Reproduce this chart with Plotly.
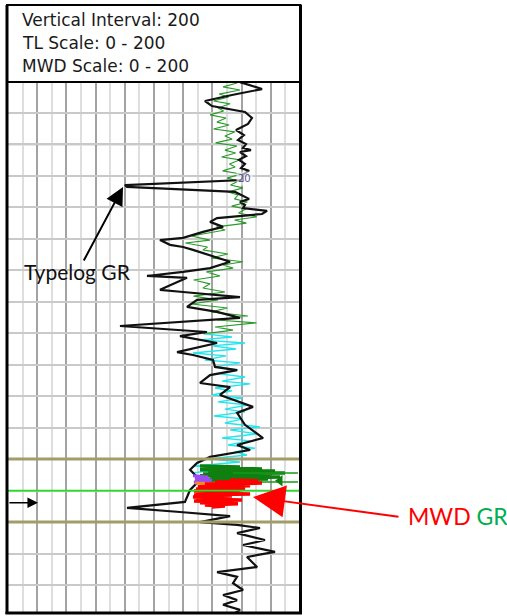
import plotly.graph_objects as go

# ---------------- data ----------------
# Typelog GR (API) vs measured depth (ft)
typelog_depth = [8380.2, 8382.4, 8384.3, 8386.2, 8387.8, 8389.7, 8391.6, 8393.5, 8395.4, 8397.0,
                 8398.6, 8399.9, 8401.1, 8401.8, 8402.4, 8403.7, 8404.9, 8406.2, 8407.5, 8408.4,
                 8409.7, 8411.3, 8412.9, 8413.5, 8415.1, 8416.4, 8417.3, 8418.3, 8419.2, 8420.2,
                 8421.1, 8422.1, 8423.4, 8424.6, 8426.2, 8427.8, 8429.7, 8430.4, 8431.9, 8432.6,
                 8433.5, 8437.3, 8439.3, 8440.5, 8441.8, 8442.4, 8446.2, 8446.9, 8448.5, 8449.4,
                 8451.6, 8453.2, 8455.1, 8457.7, 8459.6, 8460.9, 8463.1, 8466.0, 8466.9, 8468.5,
                 8470.7, 8471.7, 8473.3, 8475.8, 8477.1, 8479.6, 8483.4, 8485.3, 8489.1, 8493.3,
                 8495.5, 8497.1, 8499.3, 8501.2, 8503.4, 8506.6, 8509.8, 8513.6, 8515.5, 8516.8,
                 8518.1, 8520.0, 8520.9, 8521.9, 8523.5, 8525.7, 8527.3, 8529.5, 8531.1, 8534.3,
                 8535.9, 8537.4, 8539.4, 8541.6, 8543.2, 8544.8, 8546.3, 8547.9, 8548.9]
typelog_gr = [158.9, 174.0, 153.4, 134.9, 139.7, 162.3, 167.1, 164.4, 156.2, 161.6,
              157.5, 163.0, 161.0, 166.4, 158.9, 163.0, 158.2, 162.3, 159.6, 165.1,
              160.3, 161.0, 80.1, 81.5, 155.5, 161.6, 165.1, 158.9, 162.3, 161.0,
              177.4, 174.0, 143.2, 138.4, 147.3, 133.6, 119.9, 104.1, 111.0, 119.9,
              126.7, 152.1, 138.4, 119.9, 95.2, 122.6, 104.1, 119.9, 158.9, 129.5,
              122.6, 143.2, 158.9, 76.7, 136.3, 117.8, 143.2, 115.8, 126.7, 140.4,
              141.8, 156.9, 138.4, 131.5, 152.1, 145.2, 167.8, 156.9, 162.3, 174.7,
              156.9, 165.8, 138.4, 129.5, 124.7, 131.5, 124.7, 121.2, 81.5, 117.8,
              152.1, 131.5, 156.9, 172.6, 156.9, 176.0, 161.0, 182.9, 163.7, 170.6,
              143.2, 156.9, 154.1, 161.0, 147.3, 156.9, 147.3, 158.9, 155.5]

# MWD GR, upper run (green)
mwd_upper_depth = [8380.5, 8381.7, 8382.7, 8384.0, 8384.9, 8386.2, 8387.1, 8388.4, 8389.4, 8390.6,
                   8391.6, 8392.9, 8393.8, 8395.1, 8396.0, 8397.3, 8398.3, 8399.5, 8400.5, 8401.8,
                   8402.7, 8404.0, 8404.9, 8406.2, 8407.2, 8408.4, 8409.4, 8410.7, 8411.6, 8412.9,
                   8413.8, 8415.1, 8416.1, 8417.3, 8418.3, 8419.6, 8420.5, 8421.8, 8423.0, 8424.0,
                   8425.0, 8426.2, 8427.2, 8429.1, 8430.4, 8431.3, 8432.6, 8433.5, 8434.8, 8436.1,
                   8437.3, 8438.3, 8439.3, 8440.5, 8441.8, 8443.1, 8444.3, 8445.6, 8446.9, 8448.2,
                   8449.4, 8450.7, 8452.0, 8453.2, 8454.5, 8455.8, 8456.7, 8458.0, 8459.0, 8460.2]
mwd_upper_gr = [156.9, 147.3, 158.9, 144.6, 151.1, 140.8, 152.1, 143.8, 147.7, 138.4,
                149.3, 143.1, 151.4, 140.8, 155.5, 148.6, 153.5, 142.2, 156.8, 148.6,
                155.9, 146.3, 158.9, 151.7, 155.6, 147.0, 159.5, 150.1, 158.0, 152.4,
                160.9, 150.7, 157.6, 155.1, 164.0, 153.2, 162.8, 157.9, 170.5, 155.2,
                163.3, 142.8, 148.7, 125.7, 138.3, 121.5, 136.7, 133.5, 150.6, 139.1,
                160.9, 147.3, 154.2, 135.9, 145.2, 127.1, 138.4, 133.5, 148.6, 127.1,
                143.8, 125.7, 150.4, 139.0, 164.3, 143.2, 170.2, 141.8, 154.1, 133.9]

# MWD GR, middle run (cyan)
mwd_mid_depth = [8460.2, 8461.2, 8462.1, 8463.1, 8464.0, 8465.0, 8466.3, 8467.2, 8468.5, 8469.4,
                 8470.7, 8471.7, 8472.9, 8473.9, 8475.2, 8476.1, 8477.4, 8478.3, 8479.6, 8480.6,
                 8481.8, 8482.8, 8484.1, 8485.0, 8486.3, 8487.2, 8488.5, 8489.8, 8490.7, 8492.0,
                 8493.3, 8494.2, 8495.5, 8496.5, 8497.7, 8498.7, 8499.9, 8500.9, 8502.2, 8503.1,
                 8504.4]
mwd_mid_gr = [134.9, 153.4, 131.5, 162.3, 139.7, 156.2, 126.7, 149.3, 134.9, 158.9,
              141.8, 157.5, 145.2, 162.3, 146.6, 165.8, 141.8, 153.4, 139.7, 160.3,
              143.8, 164.4, 148.6, 162.3, 141.1, 161.0, 148.6, 172.6, 152.1, 170.6,
              146.6, 165.8, 150.7, 169.2, 155.5, 163.7, 138.4, 158.9, 128.1, 148.6,
              126.0]

# MWD GR, lateral runs near the landing zone
run_green_depth = [8502.2, 8502.5, 8502.8, 8503.1, 8503.4, 8503.8, 8504.1, 8504.4, 8504.7, 8505.0,
                   8505.3, 8505.7, 8506.0, 8506.3, 8506.6, 8506.9, 8507.3, 8507.6, 8507.9, 8508.2,
                   8508.8, 8509.5, 8510.1]
run_green_gr = [131.5, 158.9, 134.9, 174.0, 131.5, 182.9, 137.0, 189.7, 133.6, 179.5,
                131.5, 186.3, 138.4, 178.1, 134.9, 169.2, 141.8, 164.4, 138.4, 158.9,
                145.2, 162.3, 148.6]

run_purple_depth = [8505.3, 8505.7, 8506.3, 8506.6, 8507.3, 8507.6]
run_purple_gr = [126.7, 137.0, 128.1, 139.7, 127.4, 134.2]

run_orange_depth = [8507.6, 8507.9, 8508.2, 8508.5, 8508.8, 8509.2]
run_orange_gr = [128.1, 145.2, 131.5, 162.3, 134.9, 152.1]

run_red_depth = [8506.6, 8506.9, 8507.3, 8507.6, 8507.9, 8508.5, 8508.8, 8509.2, 8509.5, 8509.8,
                 8510.1, 8510.4, 8510.8, 8511.1, 8511.4, 8511.7, 8512.0, 8512.3, 8512.7, 8513.0,
                 8513.3, 8513.6, 8513.9, 8514.2, 8514.6, 8514.9, 8515.2]
run_red_gr = [152.1, 171.2, 141.8, 174.0, 134.9, 165.8, 130.1, 162.3, 128.8, 158.9,
              127.4, 153.4, 128.8, 165.8, 127.4, 153.4, 126.7, 150.7, 128.8, 160.3,
              127.4, 153.4, 131.5, 157.5, 134.9, 148.6, 139.7]

# projection lines of the green run toward the track edge
proj_depth = [8504.4, 8507.3]
proj_gr_start = [154.1, 170.6]
proj_gr_end = [198.6, 198.6]

formation_tops = [8500, 8520]
target_line = 8510
bit_depth = 8513.9
marker_depth = 8410.9
marker_gr = 162.3

header_lines = ["Vertical Interval: 200", "TL Scale: 0 - 200", "MWD Scale: 0 - 200"]

# ---------------- layout geometry ----------------
W, H = 507, 616
TRACK_L, TRACK_R = 8, 300       # px
TRACK_T, TRACK_B = 81.5, 613     # px
DEPTH_TOP, DEPTH_BOT = 8380, 8548.9
GR_MIN, GR_MAX = 0, 200


def px(x):
    return x / W


def py(y):
    return 1 - y / H


fig = go.Figure()

fig.add_trace(go.Scatter(x=mwd_upper_gr, y=mwd_upper_depth, mode="lines",
                         line=dict(color="#2a9a2a", width=1.1), hoverinfo="skip"))
fig.add_trace(go.Scatter(x=mwd_mid_gr, y=mwd_mid_depth, mode="lines",
                         line=dict(color="#22e6ee", width=1.4), hoverinfo="skip"))
fig.add_trace(go.Scatter(x=typelog_gr, y=typelog_depth, mode="lines",
                         line=dict(color="#111111", width=2.2), hoverinfo="skip"))
fig.add_trace(go.Scatter(x=run_green_gr, y=run_green_depth, mode="lines",
                         line=dict(color="#0f7f0f", width=3.5), hoverinfo="skip"))
for d, g0, g1 in zip(proj_depth, proj_gr_start, proj_gr_end):
    fig.add_trace(go.Scatter(x=[g0, g1], y=[d, d], mode="lines",
                             line=dict(color="#169a16", width=1.5), hoverinfo="skip"))
fig.add_trace(go.Scatter(x=[186.3], y=[8506.9], mode="markers",
                         marker=dict(symbol="triangle-left", size=10, color="#0f7f0f"),
                         hoverinfo="skip"))
fig.add_trace(go.Scatter(x=run_purple_gr, y=run_purple_depth, mode="lines",
                         line=dict(color="#9b4cf2", width=3), hoverinfo="skip"))
fig.add_trace(go.Scatter(x=run_orange_gr, y=run_orange_depth, mode="lines",
                         line=dict(color="#f08a24", width=3), hoverinfo="skip"))
fig.add_trace(go.Scatter(x=run_red_gr, y=run_red_depth, mode="lines",
                         line=dict(color="#ff0000", width=3.5), hoverinfo="skip"))

shapes = []
# darker 100 ft depth line
shapes.append(dict(type="line", xref="x", yref="y", x0=GR_MIN, x1=GR_MAX, y0=8400, y1=8400,
                   line=dict(color="#9a9a9a", width=1.5), layer="below"))
# formation tops
for d in formation_tops:
    shapes.append(dict(type="line", xref="x", yref="y", x0=GR_MIN, x1=GR_MAX, y0=d, y1=d,
                       line=dict(color="#a29d68", width=3), layer="above"))
# target line
shapes.append(dict(type="line", xref="x", yref="y", x0=GR_MIN, x1=GR_MAX,
                   y0=target_line, y1=target_line,
                   line=dict(color="#22e022", width=1.6), layer="above"))
# header box
shapes.append(dict(type="rect", xref="paper", yref="paper",
                   x0=px(7), x1=px(300.5), y0=py(82), y1=py(5),
                   line=dict(color="black", width=2)))
# track frame
shapes.append(dict(type="line", xref="paper", yref="paper", x0=px(7), x1=px(7),
                   y0=py(5), y1=py(614), line=dict(color="black", width=3)))
shapes.append(dict(type="line", xref="paper", yref="paper", x0=px(300.5), x1=px(300.5),
                   y0=py(5), y1=py(614), line=dict(color="black", width=3)))
shapes.append(dict(type="line", xref="paper", yref="paper", x0=px(5.5), x1=px(302),
                   y0=py(613), y1=py(613), line=dict(color="black", width=3)))

annotations = []
for i, t in enumerate(header_lines):
    annotations.append(dict(text=t, xref="paper", yref="paper", x=px(20), y=py(20 + 23 * i),
                            xanchor="left", yanchor="middle", showarrow=False,
                            font=dict(family="DejaVu Sans", size=17, color="#1a1a1a")))
annotations.append(dict(text="Typelog GR", xref="paper", yref="paper", x=px(22), y=py(272),
                        xanchor="left", yanchor="middle", showarrow=False,
                        font=dict(family="Lato", size=21, color="#111111")))
annotations.append(dict(text="<span style='color:#ff0000'>MWD</span> "
                             "<span style='color:#00b050'>GR</span>",
                        xref="paper", yref="paper", x=px(406), y=py(516),
                        xanchor="left", yanchor="middle", showarrow=False,
                        font=dict(family="Lato", size=23)))
annotations.append(dict(text="20", x=marker_gr, y=marker_depth, xref="x", yref="y",
                        showarrow=False, font=dict(family="DejaVu Sans", size=10, color="#55559a"),
                        bgcolor="rgba(255,255,255,0.6)"))
# arrows
annotations.append(dict(text="", xref="paper", yref="paper", x=px(123), y=py(187),
                        ax=-40, ay=75, showarrow=True, arrowhead=2, arrowsize=1.8,
                        arrowwidth=2, arrowcolor="black", standoff=0))
annotations.append(dict(text="", xref="paper", yref="paper", x=px(253), y=py(497),
                        ax=147, ay=20, showarrow=True, arrowhead=2, arrowsize=3.2,
                        arrowwidth=2, arrowcolor="#ff0000", standoff=0))
annotations.append(dict(text="", xref="x", yref="y", x=20.5, y=bit_depth,
                        ax=-30, ay=0, showarrow=True, arrowhead=2, arrowsize=1.4,
                        arrowwidth=1.5, arrowcolor="black", standoff=0))

fig.update_layout(
    width=W, height=H,
    margin=dict(l=0, r=0, t=0, b=0),
    paper_bgcolor="white", plot_bgcolor="white",
    showlegend=False,
    shapes=shapes, annotations=annotations,
    xaxis=dict(domain=[px(TRACK_L), px(TRACK_R)], range=[GR_MIN, GR_MAX],
               showticklabels=False, ticks="", zeroline=False,
               showgrid=True, dtick=20, tick0=0, gridcolor="#a3a3a3", gridwidth=1.6,
               minor=dict(dtick=10, tick0=0, showgrid=True, gridcolor="#dedede", gridwidth=1.6),
               fixedrange=True),
    yaxis=dict(domain=[py(TRACK_B), py(TRACK_T)], range=[DEPTH_BOT, DEPTH_TOP],
               showticklabels=False, ticks="", zeroline=False,
               showgrid=True, dtick=10, tick0=8380, gridcolor="#c9c9c9", gridwidth=1.5,
               fixedrange=True),
)

fig.write_html("out.html")
